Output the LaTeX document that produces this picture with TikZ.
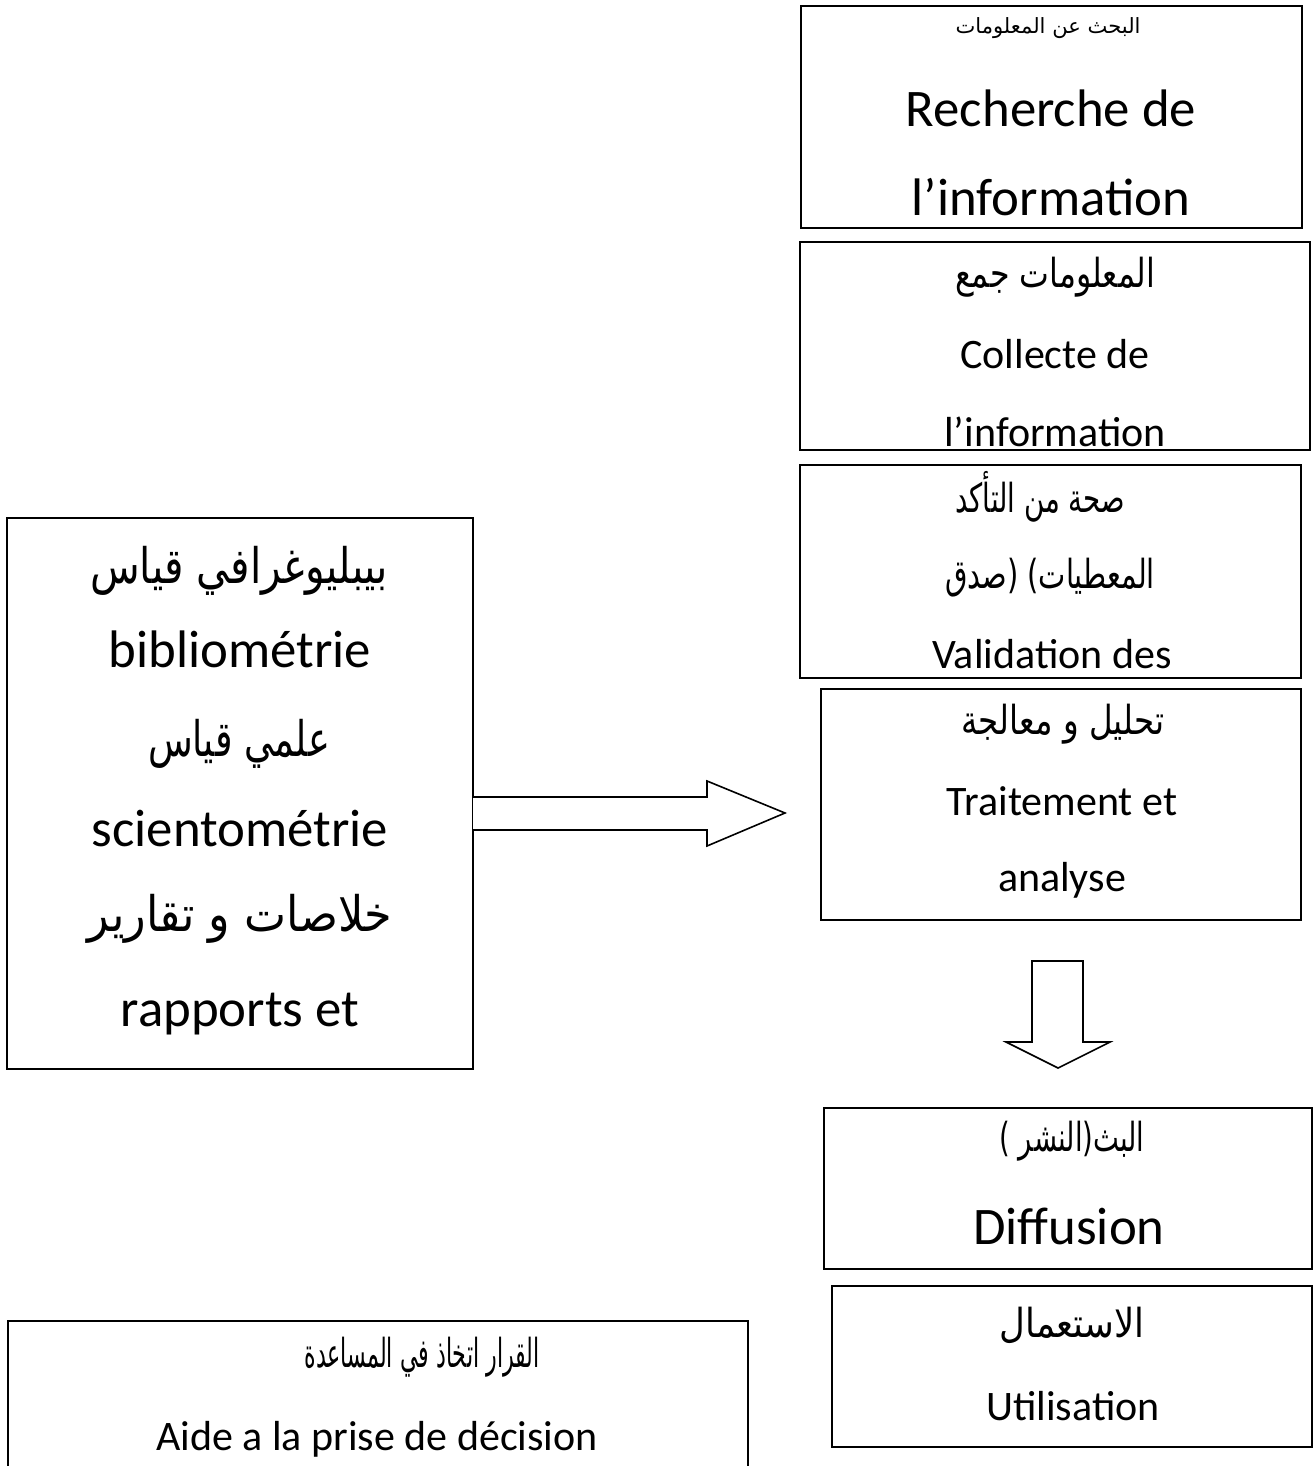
\documentclass[tikz,border=0pt]{standalone}
\usepackage{graphicx}
\usepackage{fontspec}
\setmainfont{Carlito}
\newfontfamily\arabicfont[Script=Arabic]{DejaVu Sans}
\TeXXeTstate=1
\tikzset{
  frame/.style={draw, line width=1pt, inner sep=0pt, outer sep=0pt},
  big/.style={anchor=base, inner sep=0pt, font=\fontsize{26.4}{30}\selectfont},
  mid/.style={anchor=base, inner sep=0pt, font=\fontsize{21}{25}\selectfont},
  arb/.style={anchor=base, inner sep=0pt, font=\arabicfont\fontsize{20}{24}\selectfont},
  arbbig/.style={anchor=base, inner sep=0pt, font=\arabicfont\fontsize{24.5}{28}\selectfont},
  arbsmall/.style={anchor=base, inner sep=0pt, font=\arabicfont\fontsize{10.5}{12}\selectfont},
  blockarrow/.style={draw, line width=0.8pt, line join=miter, fill=white},
}
% horizontally fit a line of Arabic text to a given width (in pt)
\newcommand\arw[2]{\resizebox{#1pt}{\height}{#2}}
\newcommand\mkbox[5]{%
  \node[frame, minimum width={(#4-#2)*0.5pt}, minimum height={(#5-#3)*0.5pt}]
    (#1) at ({(#2+#4)/2},{(#3+#5)/2}) {};}
\begin{document}
\begin{tikzpicture}[x=0.5pt, y=-0.5pt]
\useasboundingbox (0,0) rectangle (1315,1466);
\fill[white] (0,0) rectangle (1315,1466);

% ---- box 1: Recherche
\mkbox{b1}{801}{6}{1302}{228}
\begin{scope}
\clip (801,6) rectangle (1302,228);
\node[arbsmall] (t1a) at (1048,34) {\arw{92.5}{\beginR البحث عن المعلومات\endR}};
\node[big] (t1b) at (1051,127) {Recherche de};
\node[big] (t1c) at (1051,216) {l’information};
\end{scope}

% ---- box 2: Collecte
\mkbox{b2}{800}{242}{1310}{450}
\begin{scope}
\clip (800,242) rectangle (1310,450);
\node[arb] (t2a) at (1055,287) {\arw{100}{\beginR المعلومات جمع\endR}};
\node[mid] (t2b) at (1055,368) {Collecte de};
\node[mid] (t2c) at (1055,446) {l’information};
\end{scope}

% ---- box 3: Validation
\mkbox{b3}{800}{465}{1301}{678}
\begin{scope}
\clip (800,465) rectangle (1301,678);
\node[arb] (t3a) at (1040,512) {\arw{85}{\beginR صحة من التأكد\endR}};
\node[arb] (t3b) at (1050,588) {\arw{105}{\beginR صدق\endR(\ )\beginR المعطيات\endR}};
\node[mid] (t3c) at (1052,668) {Validation des};
\end{scope}

% ---- box 4: Traitement
\mkbox{b4}{821}{689}{1301}{920}
\node[arb] (t4a) at (1063,734) {\arw{101.5}{\beginR تحليل و معالجة\endR}};
\node[mid] (t4b) at (1062,815) {Traitement et};
\node[mid] (t4c) at (1062,891) {analyse};

% ---- left box
\mkbox{bl}{7}{518}{473}{1069}
\begin{scope}
\clip (7,518) rectangle (473,1069);
\node[arbbig] (tla) at (239,583) {\arw{149}{\beginR بيبليوغرافي قياس\endR}};
\node[big] (tlb) at (240,667) {bibliométrie};
\node[arbbig] (tlc) at (239,756) {\arw{91}{\beginR علمي قياس\endR}};
\node[big] (tld) at (240,846) {scientométrie};
\node[arbbig] (tle) at (240,931) {\arw{152.5}{\beginR خلاصات و تقارير\endR}};
\node[big] (tlf) at (240,1026) {rapports et};
\end{scope}

% ---- Diffusion
\mkbox{b5}{824}{1108}{1312}{1269}
\node[arb] (t5a) at (1072,1151) {\arw{72.5}{)\ \beginR النشر\endR(\beginR البث\endR}};
\node[big] (t5b) at (1069,1244) {Diffusion};

% ---- Utilisation
\mkbox{b6}{832}{1286}{1312}{1447}
\node[arb] (t6a) at (1072,1337) {\arw{72.5}{\beginR الاستعمال\endR}};
\node[mid] (t6b) at (1073,1420) {Utilisation};

% ---- bottom-left box (cut by the page edge)
\mkbox{b7}{8}{1321}{748}{1500}
\node[arb] (t7a) at (422,1367) {\arw{117.5}{\beginR القرار اتخاذ في المساعدة\endR}};
\node[mid] (t7b) at (377,1450) {Aide a la prise de décision};

% ---- block arrow right (from left box toward box 4)
\draw[blockarrow] (bl.east |- 0,797) -- (707,797) -- (707,781) -- (785,813) -- (707,846) -- (707,830) -- (bl.east |- 0,830);

% ---- block arrow down (from box 4 toward Diffusion)
\draw[blockarrow] (1032,961) -- (1083,961) -- (1083,1042) -- (1110,1042) -- (1058,1068) -- (1006,1042) -- (1032,1042) -- cycle;
\end{tikzpicture}
\end{document}
